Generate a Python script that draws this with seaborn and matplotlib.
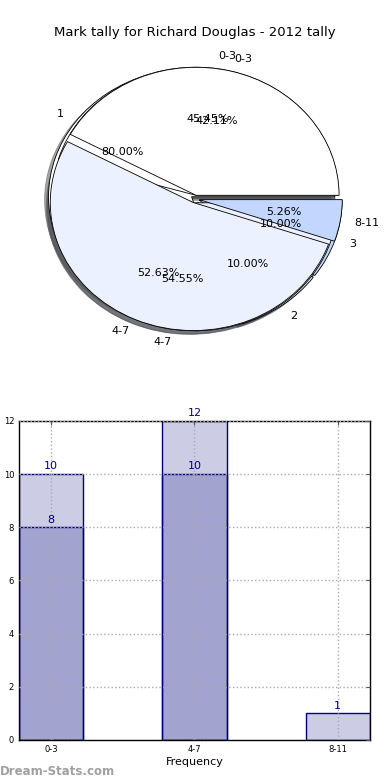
import numpy as np
import matplotlib
matplotlib.use('Agg')
import matplotlib.pyplot as plt
import seaborn as sns

# data
cats = ['0-3', '4-7', '8-11']
tally_a = [10, 12]          # 0-3, 4-7
tally_b = [8, 10, 1]        # 0-3, 4-7, 8-11
third_labels = ['1', '2', '3']
third_vals = [8, 1, 1]
pie_colors = ['#FFFFFF', '#EBF1FE', '#C3D7FE']

sns.set_style('white')
plt.rcParams['font.family'] = ['DejaVu Sans']
plt.rcParams['text.color'] = 'black'
plt.rcParams['axes.labelcolor'] = 'black'
plt.rcParams['xtick.color'] = 'black'
plt.rcParams['ytick.color'] = 'black'

fig = plt.figure(figsize=(3.9, 7.8), dpi=100)

# ---- pie section
ax1 = fig.add_axes([0.0417, 0.5397, 0.9167, 0.4103])
ex = 0.03
for labs, vals in [(third_labels, third_vals), (cats[:2], tally_a), (cats, tally_b)]:
    ax1.pie(vals, labels=labs, colors=pie_colors[:len(vals)],
            explode=[ex] * len(vals), shadow=True, autopct='%.2f%%',
            startangle=0, labeldistance=1.1, pctdistance=0.6,
            wedgeprops=dict(edgecolor='black', linewidth=0.6),
            textprops=dict(fontsize=8, color='black'))
ax1.set_aspect('auto')
ax1.set_xlim(-1.25, 1.25)
ax1.set_ylim(-1.25, 1.25)
ax1.set_title('Mark tally for Richard Douglas - 2012 tally', fontsize=9.5, pad=0)

# ---- bar section
ax2 = fig.add_axes([0.0487, 0.0513, 0.9, 0.409])
sns.barplot(x=cats[:2], y=tally_a, order=cats, width=0.45, color='navy',
            saturation=1, edgecolor='navy', linewidth=1, errorbar=None, ax=ax2)
sns.barplot(x=cats, y=tally_b, order=cats, width=0.45, color='navy',
            saturation=1, edgecolor='navy', linewidth=1, errorbar=None, ax=ax2)
for cont in ax2.containers:
    for p in cont:
        p.set_facecolor((0, 0, 0.5, 0.2))
    ax2.bar_label(cont, color='navy', fontsize=8, padding=2)

ax2.set_xlim(-0.225, 2.225)
ax2.set_ylim(0, 12)
ax2.set_yticks(np.arange(0, 13, 2))
ax2.grid(True, linestyle=':', color='#aaaaaa', linewidth=1)
ax2.set_axisbelow(False)
ax2.tick_params(direction='in', top=True, right=True, labelsize=6, length=3,
                color='#555555')
for s in ax2.spines.values():
    s.set_color('black')
    s.set_linewidth(1)
ax2.set_xlabel('Frequency', fontsize=8, labelpad=2)
ax2.set_ylabel('Class Intervals', fontsize=8, labelpad=3)

fig.text(0.0, 0.003, 'Dream-Stats.com', fontsize=8.5, color='#a0a0a0',
         fontweight='bold', ha='left', va='bottom')

fig.savefig('out.png', dpi=100)
